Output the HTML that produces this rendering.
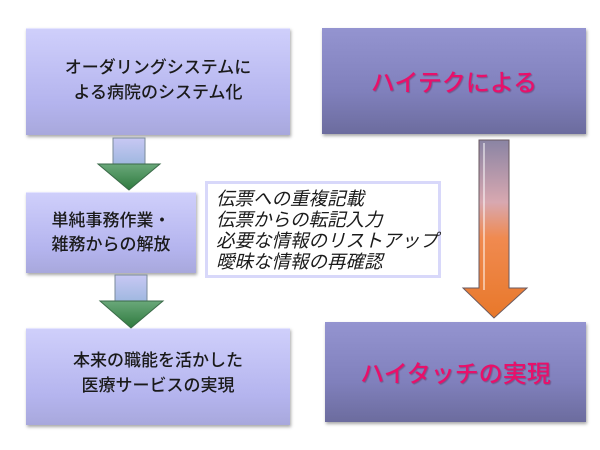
<!DOCTYPE html>
<html><head><meta charset="utf-8">
<style>
body{margin:0;width:600px;height:450px;background:#fff;position:relative;overflow:hidden;font-family:"Liberation Sans","Noto Sans CJK JP",sans-serif;}
.b{position:absolute;box-sizing:border-box;display:flex;align-items:center;justify-content:center;text-align:center;box-shadow:1px 2px 3px rgba(0,0,0,.35);}
.l{background:linear-gradient(#cfcffb,#b4b4ee 70%,#a8a8dc);border-top:1px solid #e4e4ff;color:#1a1a1a;font-size:17px;line-height:25px;font-weight:500;}
.r{background:linear-gradient(#9494d0,#8080bc 60%,#6c6c9e);color:#e8106a;font-size:24px;text-shadow:1px 1px 1px rgba(80,0,40,.3);font-weight:500;}
</style></head><body>
<div class="b l" style="left:26px;top:28px;width:264px;height:107px;padding-bottom:5px">オーダリングシステムに<br>よる病院のシステム化</div>
<div class="b r" style="left:322px;top:28px;width:264px;height:106px;padding-bottom:2px">ハイテクによる</div>
<div class="b l" style="left:26px;top:192px;width:170px;height:81px;line-height:24px">単純事務作業・<br>雑務からの解放</div>
<div class="b l" style="left:26px;top:328px;width:264px;height:97px;padding-bottom:8px">本来の職能を活かした<br>医療サービスの実現</div>
<div class="b r" style="left:325px;top:322px;width:261px;height:100px;padding-bottom:2px">ハイタッチの実現</div>
<div style="position:absolute;left:205px;top:181px;width:236px;height:97px;box-sizing:border-box;border:3px solid #d8d8fa;background:#fff;font-style:italic;font-size:18.5px;line-height:21px;padding:4px 0 0 8px;color:#1a1a1a;white-space:nowrap;">伝票への重複記載<br>伝票からの転記入力<br>必要な情報のリストアップ<br>曖昧な情報の再確認</div>
<svg width="600" height="450" style="position:absolute;left:0;top:0">
<defs>
<linearGradient id="g1" x1="0" y1="0" x2="0" y2="1"><stop offset="0" stop-color="#c8c8f4"/><stop offset="1" stop-color="#a0b8e0"/></linearGradient>
<linearGradient id="g2" x1="0" y1="0" x2="0" y2="1"><stop offset="0" stop-color="#6aa87a"/><stop offset="1" stop-color="#2e7a3e"/></linearGradient>
<linearGradient id="o1" x1="0" y1="0" x2="0" y2="1"><stop offset="0" stop-color="#8a84a4"/><stop offset=".35" stop-color="#d8a8b0"/><stop offset=".55" stop-color="#f08a50"/><stop offset="1" stop-color="#e8782a"/></linearGradient>
</defs>
<g stroke="#7a8a9a" stroke-width="1">
<rect x="113" y="138" width="32" height="26" fill="url(#g1)"/>
<polygon points="98,164 160,164 129,190" fill="url(#g2)" stroke="#3a6a48"/>
<rect x="115" y="275" width="32" height="26" fill="url(#g1)"/>
<polygon points="100,301 163,301 131,328" fill="url(#g2)" stroke="#3a6a48"/>
</g>
<polygon points="479,140 509,140 509,288 527,288 494,318 463,288 479,288" fill="url(#o1)" stroke="#6a5a60" stroke-width="1"/>
<line x1="484" y1="143" x2="484" y2="290" stroke="#fff" stroke-opacity=".5" stroke-width="2"/>
</svg>
</body></html>
